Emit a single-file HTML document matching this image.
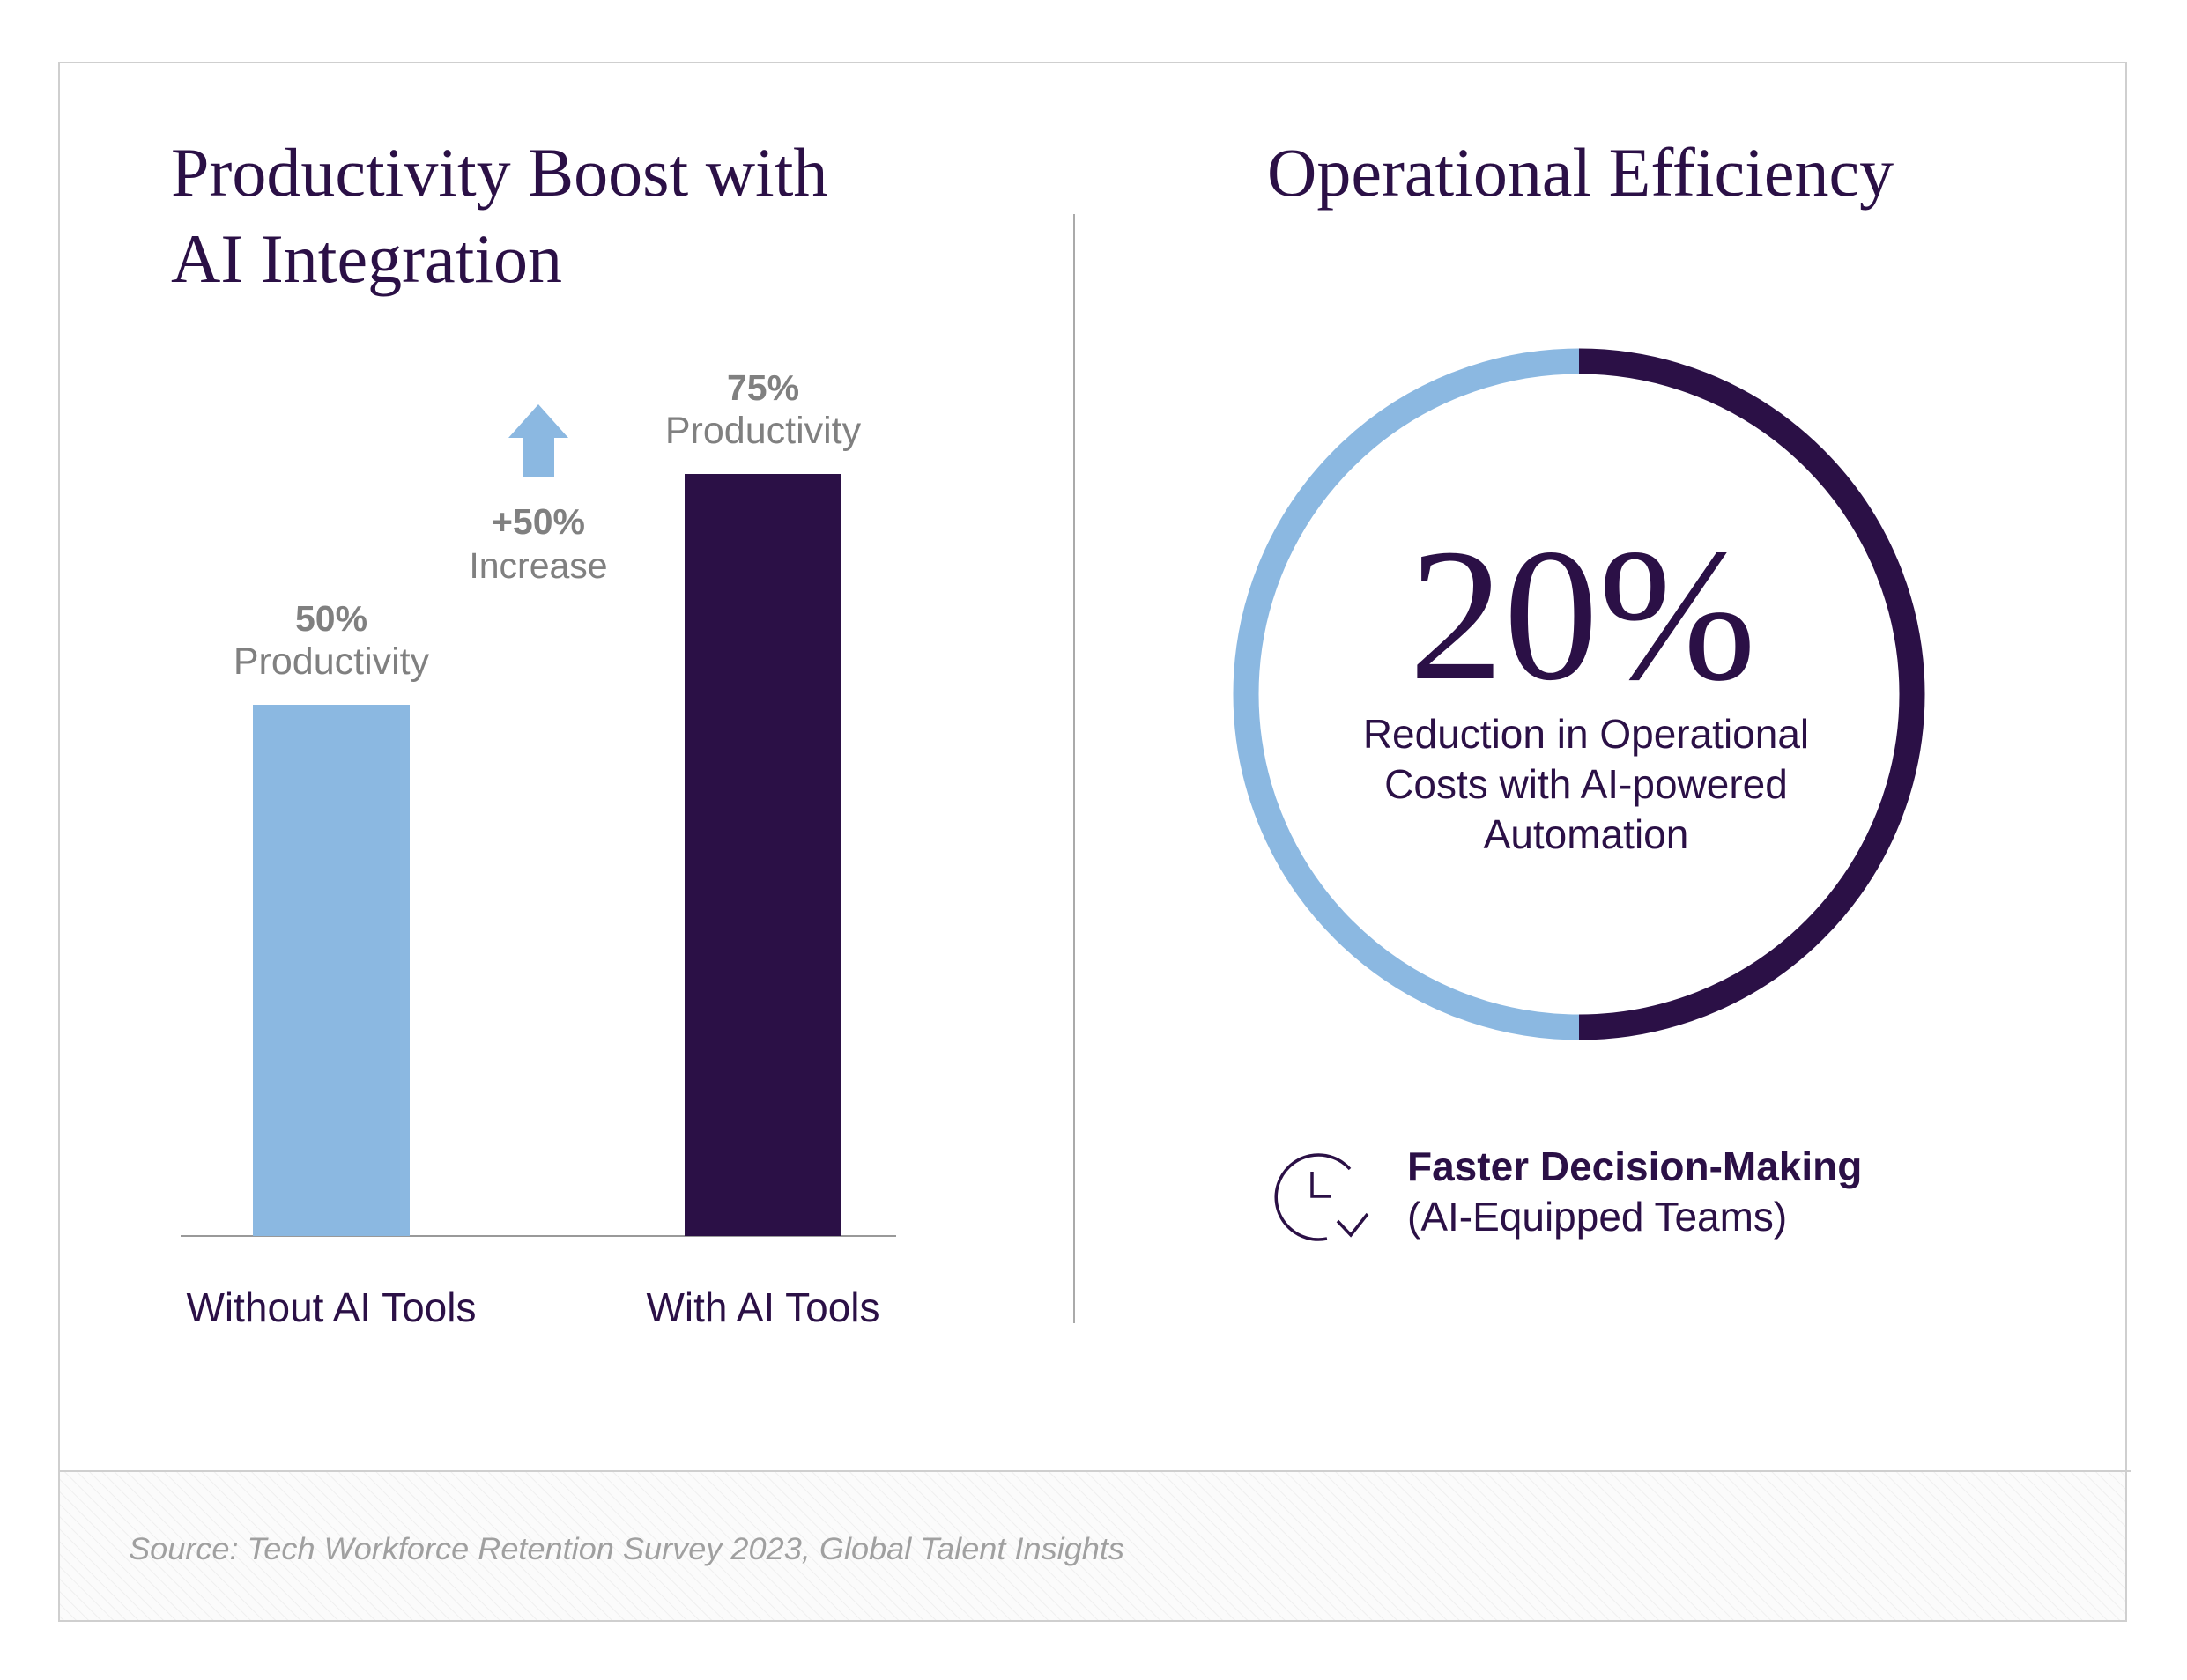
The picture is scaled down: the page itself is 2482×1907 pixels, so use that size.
<!DOCTYPE html>
<html><head><meta charset="utf-8"><style>
body{margin:0;width:2482px;height:1907px;background:#fff;overflow:hidden;position:relative;font-family:"Liberation Sans",sans-serif}
</style></head><body>
<svg width="2482" height="1907" style="position:absolute;left:0;top:0">
<defs><pattern id="hatch" width="10" height="10" patternUnits="userSpaceOnUse" patternTransform="rotate(-45)"><rect width="10" height="10" fill="#fbfbfb"/><line x1="0" y1="0" x2="0" y2="10" stroke="#efefef" stroke-width="2"/></pattern></defs>
<rect x="67" y="1670" width="2346" height="170" fill="url(#hatch)"/>
<rect x="67" y="71" width="2346" height="1769" fill="none" stroke="#cfcfcf" stroke-width="2"/>
<line x1="67" y1="1670" x2="2418" y2="1670" stroke="#cfcfcf" stroke-width="2"/>
<text x="146" y="1770" font-size="35" font-style="italic" fill="#a0a0a0" textLength="1130" lengthAdjust="spacingAndGlyphs">Source: Tech Workforce Retention Survey 2023, Global Talent Insights</text>
<text font-family="Liberation Serif,serif" font-size="78" fill="#2b1046"><tspan x="194" y="222">Productivity Boost with</tspan><tspan x="194" y="320">AI Integration</tspan></text>
<text x="1438" y="222" font-family="Liberation Serif,serif" font-size="78" fill="#2b1046">Operational Efficiency</text>
<line x1="1219" y1="243" x2="1219" y2="1502" stroke="#aaa" stroke-width="2"/>
<g id="bars"></g>
<g>
<polygon points="611,459 645,497 629,497 629,541 593,541 593,497 577,497" fill="#8bb8e1"/>
<text x="611" y="606" text-anchor="middle" font-size="41" font-weight="bold" fill="#808080">+50%</text>
<text x="611" y="656" text-anchor="middle" font-size="41" fill="#808080">Increase</text>
</g>
<g id="donut"></g>
<text x="1796" y="770" text-anchor="middle" font-family="Liberation Serif,serif" font-size="215" fill="#2b1046">20%</text>
<text text-anchor="middle" font-size="46" fill="#2b1046"><tspan x="1800" y="849">Reduction in Operational</tspan><tspan x="1800" y="906">Costs with AI-powered</tspan><tspan x="1800" y="963">Automation</tspan></text>
<g fill="none" stroke="#2b1046" stroke-width="3.5">
<path d="M1532,1327 A48,48 0 1 0 1506,1406"/>
<path d="M1489,1330 V1358 H1510"/>
<path d="M1518,1386 L1533,1402 L1552,1378"/>
</g>
<text x="1597" y="1340" font-size="46" font-weight="bold" fill="#2b1046">Faster Decision-Making</text>
<text x="1597" y="1397" font-size="46" fill="#2b1046">(AI-Equipped Teams)</text>
</svg>
<script>
const categories=["Without AI Tools","With AI Tools"];
const values=[50,75];
const valueLabels=["50%","75%"];
const colors=["#8bb8e1","#2b1046"];
const donutValues=[50,50];
const NS="http://www.w3.org/2000/svg";
const g=document.getElementById('bars');
const base=1403;
function yScale(v){return base-(79+10.48*v);}
const centers=[376,866],bw=178;
function mk(t,a,p){const e=document.createElementNS(NS,t);for(const k in a)e.setAttribute(k,a[k]);p.appendChild(e);return e;}
const ax=mk('line',{x1:205,y1:base,x2:1017,y2:base,stroke:'#999','stroke-width':2},g);


values.forEach((v,i)=>{
 const y=yScale(v);
 const r=mk('rect',{x:centers[i]-bw/2,y:y,width:bw,height:base-y,fill:colors[i]},g);
 
 
 const t1=mk('text',{x:centers[i],y:y-84,'text-anchor':'middle','font-size':41,'font-weight':'bold',fill:'#808080'},g);t1.textContent=valueLabels[i];
 
 
 const t2=mk('text',{x:centers[i],y:y-35,'text-anchor':'middle','font-size':43,fill:'#808080'},g);t2.textContent='Productivity';
 
 
 const c=mk('text',{x:centers[i],y:1500,'text-anchor':'middle','font-size':46,fill:'#2b1046'},g);c.textContent=categories[i];
 
 
});
const d=document.getElementById('donut');
const cx=1792,cy=788,R=378;
const dcol=["#2b1046","#8bb8e1"];
let acc=0;const tot=donutValues.reduce((a,b)=>a+b,0);
donutValues.forEach((v,i)=>{
 const a0=acc/tot*2*Math.PI,a1=(acc+v)/tot*2*Math.PI;acc+=v;
 const x0=cx+R*Math.sin(a0),y0=cy-R*Math.cos(a0),x1=cx+R*Math.sin(a1),y1=cy-R*Math.cos(a1);
 const p=mk('path',{d:`M${x0},${y0} A${R},${R} 0 ${a1-a0>Math.PI?1:0} 1 ${x1},${y1}`,fill:'none',stroke:dcol[i],'stroke-width':29},d);
 
 
});
</script>
</body></html>
